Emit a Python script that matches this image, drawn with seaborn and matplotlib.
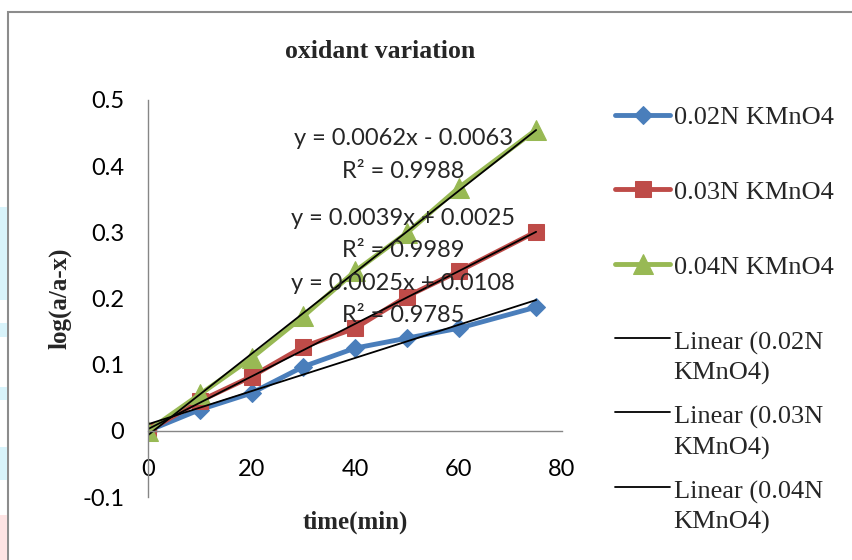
import numpy as np
import pandas as pd
import matplotlib
matplotlib.use("Agg")
import matplotlib.pyplot as plt
from matplotlib.patches import Rectangle
from matplotlib.legend_handler import HandlerLine2D
import seaborn as sns

# ------------------------------------------------------------
# DATA
# ------------------------------------------------------------

time_min = [0, 10, 20, 30, 40, 50, 60, 75]
kmno4_002 = [0, 0.032, 0.057, 0.097, 0.125, 0.140, 0.155, 0.187]
kmno4_003 = [0, 0.045, 0.082, 0.127, 0.155, 0.203, 0.241, 0.301]
kmno4_004 = [0, 0.055, 0.110, 0.173, 0.241, 0.299, 0.367, 0.455]

series_names = ["0.02N KMnO4", "0.03N KMnO4", "0.04N KMnO4"]
trend_names = ["Linear (0.02N\nKMnO4)", "Linear (0.03N\nKMnO4)", "Linear (0.04N\nKMnO4)"]
equations = ["y = 0.0025x + 0.0108", "y = 0.0039x + 0.0025", "y = 0.0062x - 0.0063"]
r_squared = ["R² = 0.9785", "R² = 0.9989", "R² = 0.9988"]
eq_pos_x = [49.3, 49.3, 49.3]
eq_pos_y = [0.222, 0.321, 0.442]
r2_pos_y = [0.174, 0.272, 0.392]

x_ticks = [0, 20, 40, 60, 80]
y_ticks = [-0.1, 0, 0.1, 0.2, 0.3, 0.4, 0.5]

colors = ["#4A7EBB", "#BE4B48", "#98B954"]
markers = ["D", "s", "^"]
msizes = [9.5, 12, 14]

df = pd.DataFrame({"time": time_min, series_names[0]: kmno4_002,
                   series_names[1]: kmno4_003, series_names[2]: kmno4_004})

# ------------------------------------------------------------
# STYLE
# ------------------------------------------------------------

sns.set_style("white")
plt.rcParams["font.family"] = ["Lato", "DejaVu Sans"]
SERIF = ["Liberation Serif", "DejaVu Serif"]
GREY = "#868686"
LEG_FS = 19

fig = plt.figure(figsize=(8.52, 5.6), dpi=100)
ax = fig.add_axes([148 / 852, 63 / 560, 414 / 852, 397 / 560])

# ------------------------------------------------------------
# SERIES + TRENDLINES
# ------------------------------------------------------------

for name, c, m, ms in zip(series_names, colors, markers, msizes):
    sns.lineplot(data=df, x="time", y=name, color=c, marker=m, markersize=ms,
                 markeredgecolor=c, linewidth=3.5, label=name, ax=ax, legend=False)

for name, tname in zip(series_names, trend_names):
    sns.regplot(x=np.array(time_min), y=df[name].values, scatter=False, ci=None,
                color="black", line_kws={"linewidth": 1.3}, label=tname, ax=ax)

for ex, ey, ry, eq, r2 in zip(eq_pos_x, eq_pos_y, r2_pos_y, equations, r_squared):
    ax.text(ex, ey, eq, ha="center", va="center", fontsize=17, zorder=10)
    ax.text(ex, ry, r2, ha="center", va="center", fontsize=17, zorder=10)

# ------------------------------------------------------------
# AXES
# ------------------------------------------------------------

ax.set_xlim(0, 80)
ax.set_ylim(-0.1, 0.5)
ax.set_xticks(x_ticks)
ax.set_yticks(y_ticks)
ax.set_yticklabels(["-0.1", "0", "0.1", "0.2", "0.3", "0.4", "0.5"])
ax.spines["bottom"].set_position(("data", 0))
for s in ["top", "right"]:
    ax.spines[s].set_visible(False)
for s in ["left", "bottom"]:
    ax.spines[s].set_color(GREY)
    ax.spines[s].set_linewidth(1.0)
ax.tick_params(axis="both", direction="out", length=5, width=1.0, color=GREY,
               labelsize=17, labelcolor="black")
ax.tick_params(axis="x", pad=15)
ax.tick_params(axis="y", pad=12)
ax.set_xlabel("time(min)", fontfamily=SERIF, fontweight="bold", fontsize=18)
ax.set_ylabel("log(a/a-x)", fontfamily=SERIF, fontweight="bold", fontsize=18)
ax.xaxis.set_label_coords(0.5, -0.033)
ax.yaxis.set_label_coords(-0.184, 0.5)

fig.text(380 / 852, 1 - 52 / 560, "oxidant variation", ha="center", va="center",
         fontfamily=SERIF, fontweight="bold", fontsize=18.5)

# ------------------------------------------------------------
# LEGENDS
# ------------------------------------------------------------

class TopLineHandler(HandlerLine2D):
    # put the trendline sample level with the first text line, like Excel
    def create_artists(self, legend, orig_handle, xdescent, ydescent, width, height, fontsize, trans):
        arts = super().create_artists(legend, orig_handle, xdescent, ydescent,
                                      width, height, fontsize, trans)
        for a in arts:
            a.set_ydata(np.asarray(a.get_ydata()) + 0.75 * fontsize)
        return arts


handles, labels = ax.get_legend_handles_labels()
leg1 = ax.legend(handles[:3], labels[:3], loc="center left",
                 bbox_to_anchor=(615 / 852, 1 - 192 / 560), bbox_transform=fig.transFigure,
                 frameon=False, prop={"family": SERIF, "size": LEG_FS}, borderpad=0,
                 borderaxespad=0, handlelength=2.1, handletextpad=0.12, labelspacing=1.95)
ax.add_artist(leg1)
leg2 = ax.legend(handles[3:], labels[3:], loc="center left",
                 bbox_to_anchor=(615 / 852, 1 - 433 / 560), bbox_transform=fig.transFigure,
                 frameon=False, prop={"family": SERIF, "size": LEG_FS}, borderpad=0,
                 borderaxespad=0, handlelength=2.1, handletextpad=0.12, labelspacing=0.8,
                 handler_map={h: TopLineHandler() for h in handles[3:]})
for t in leg2.get_texts():
    t.set_linespacing(1.4)

# ------------------------------------------------------------
# CHART BORDER + PAGE ARTEFACTS
# ------------------------------------------------------------

fig.patches.append(Rectangle((8 / 852, -0.1), 1.2, 1 - 12 / 560 + 0.1, transform=fig.transFigure,
                             fill=False, edgecolor="#8C8C8C", linewidth=1.5))
for y0, y1, c in [(207, 300, "#D8F3FA"), (323, 337, "#D8F3FA"), (387, 400, "#D8F3FA"),
                  (447, 480, "#D8F3FA"), (515, 560, "#FDE3E3")]:
    fig.patches.append(Rectangle((0, 1 - y1 / 560), 7 / 852, (y1 - y0) / 560,
                                 transform=fig.transFigure, color=c, linewidth=0))

fig.savefig("out.png", dpi=100)
